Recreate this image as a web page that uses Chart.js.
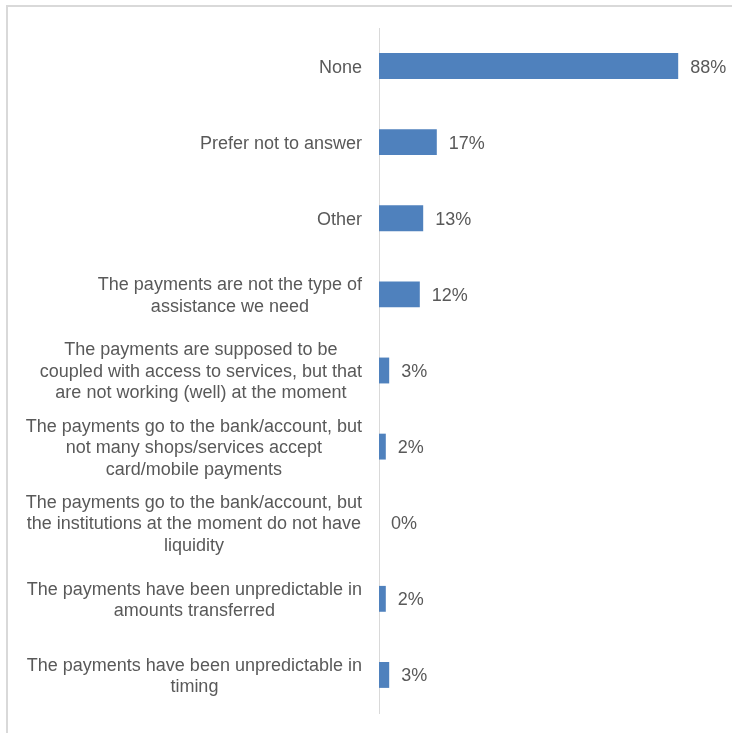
<!DOCTYPE html>
<html>
<head>
<meta charset="utf-8">
<script src="https://cdn.jsdelivr.net/npm/chart.js@4/dist/chart.umd.min.js"></script>
<style>
  html, body { margin: 0; padding: 0; background: #fff; overflow: hidden; }
  #wrap { position: relative; width: 732px; height: 733px; }
  #frame { position: absolute; left: 6px; top: 5px; width: 760px; height: 760px;
           border: 2px solid #d9d9d9; box-sizing: border-box; pointer-events: none; }
</style>
</head>
<body>
<div id="wrap">
  <canvas id="grafica" width="732" height="733"></canvas>
  <div id="frame"></div>
</div>
<script>
// reasons, one entry per bar (top to bottom)
const categorias = [
    ["None"],
    ["Prefer not to answer"],
    ["Other"],
    ["The payments are not the type of", "assistance we need"],
    ["The payments are supposed to be", "coupled with access to services, but that", "are not working (well) at the moment"],
    ["The payments go to the bank/account, but", "not many shops/services accept", "card/mobile payments"],
    ["The payments go to the bank/account, but", "the institutions at the moment do not have", "liquidity"],
    ["The payments have been unpredictable in", "amounts transferred"],
    ["The payments have been unpredictable in", "timing"]
];
const porcentajes = [88, 17, 13, 12, 3, 2, 0, 2, 3];
const escalaMax = 100;

const fuente = "18px 'Liberation Sans', Arial, sans-serif";
const gris = "#595959";

// labels on the left, each block right-aligned with its lines centred
const etiquetasEje = {
    id: "etiquetasEje",
    afterDraw(chart) {
        const ctx = chart.ctx;
        const y = chart.scales.y;
        ctx.save();
        ctx.font = fuente;
        ctx.fillStyle = gris;
        ctx.textAlign = "center";
        ctx.textBaseline = "middle";
        const lh = 21.5;
        categorias.forEach((lineas, i) => {
            const ancho = Math.max(...lineas.map(l => ctx.measureText(l).width));
            const cx = y.right - 17 - ancho / 2;
            const cy = y.getPixelForValue(i) + 1.5;
            const y0 = cy - (lineas.length - 1) * lh / 2;
            lineas.forEach((l, k) => ctx.fillText(l, cx, y0 + k * lh));
        });
        ctx.restore();
    }
};

// value label to the right of each bar
const valores = {
    id: "valores",
    afterDatasetsDraw(chart) {
        const ctx = chart.ctx;
        ctx.save();
        ctx.font = fuente;
        ctx.fillStyle = gris;
        ctx.textAlign = "left";
        ctx.textBaseline = "middle";
        chart.getDatasetMeta(0).data.forEach((bar, i) => {
            ctx.fillText(porcentajes[i] + "%", bar.x + 12, bar.y + 1.5);
        });
        ctx.restore();
    }
};

let canva = document.querySelector("#grafica").getContext("2d");

var chart = new Chart(canva, {
    type: "bar",
    data: {
        labels: categorias,
        datasets: [{
            data: porcentajes,
            backgroundColor: "#4f81bd",
            borderWidth: 0,
            categoryPercentage: 1,
            barPercentage: 0.34
        }]
    },
    options: {
        indexAxis: "y",
        responsive: false,
        animation: false,
        layout: { padding: { top: 28, bottom: 20, right: 13, left: 0 } },
        plugins: { legend: { display: false }, tooltip: { enabled: false } },
        scales: {
            x: { display: false, min: 0, max: escalaMax },
            y: {
                grid: { display: false, drawTicks: false },
                border: { display: true, color: "#d9d9d9", width: 1 },
                ticks: { display: false },
                afterFit(scale) { scale.width = 379; }
            }
        }
    },
    plugins: [etiquetasEje, valores]
});
</script>
</body>
</html>
